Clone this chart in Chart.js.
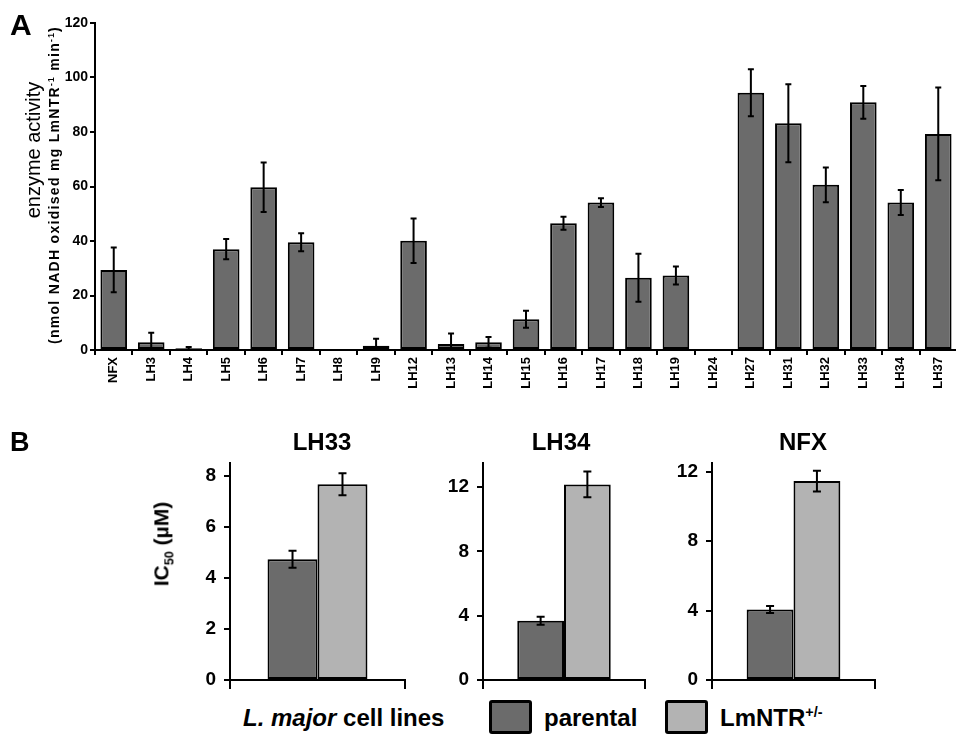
<!DOCTYPE html>
<html>
<head>
<meta charset="utf-8">
<script src="https://cdn.jsdelivr.net/npm/chart.js@4.4.1/dist/chart.umd.min.js"></script>
<style>
  body { margin: 0; width: 956px; height: 734px; overflow: hidden; background: #fff; position: relative;
         font-family: "Liberation Sans", Arial, sans-serif; color: #000; }
  canvas { position: absolute; }
  .txt { position: absolute; white-space: nowrap; font-weight: bold; }
  .rot { transform: translate(-50%, -50%) rotate(-90deg); }
  .ttl { transform: translateX(-50%); font-size: 24px; }
  .sw { position: absolute; width: 37px; height: 28px; border: 3px solid #000; border-radius: 3px; }
  sup, sub { font-size: 60%; }
</style>
</head>
<body>
<canvas id="chartA" width="980" height="400" style="left:0;top:0"></canvas>
<canvas id="chartB1" width="280" height="260" style="left:140px;top:440px"></canvas>
<canvas id="chartB2" width="240" height="260" style="left:420px;top:440px"></canvas>
<canvas id="chartB3" width="230" height="260" style="left:660px;top:440px"></canvas>

<div class="txt" style="left:10px;top:8px;font-size:30px">A</div>
<div class="txt rot" style="left:33px;top:150px;font-size:20px;font-weight:normal">enzyme activity</div>
<div class="txt rot" style="left:54px;top:185px;font-size:14px;letter-spacing:1.3px">(nmol NADH oxidised mg LmNTR<sup>-1</sup> min<sup>-1</sup>)</div>

<div class="txt" style="left:10px;top:427px;font-size:27px">B</div>
<div class="txt ttl" style="left:322px;top:428px">LH33</div>
<div class="txt ttl" style="left:561px;top:428px">LH34</div>
<div class="txt ttl" style="left:803px;top:428px">NFX</div>
<div class="txt rot" style="left:163px;top:544px;font-size:21px">IC<sub>50</sub> (µM)</div>

<div class="txt" style="left:243px;top:704px;font-size:24px"><i>L. major</i> cell lines</div>
<div class="sw" style="left:489px;top:700px;background:#6b6b6b"></div>
<div class="txt" style="left:544px;top:704px;font-size:24px">parental</div>
<div class="sw" style="left:665px;top:700px;background:#b3b3b3"></div>
<div class="txt" style="left:720px;top:704px;font-size:24px">LmNTR<sup>+/-</sup></div>

<script>
// panel A: NADH oxidation by LmNTR for each compound
const cellLines = ['NFX', 'LH3', 'LH4', 'LH5', 'LH6', 'LH7', 'LH8', 'LH9', 'LH12', 'LH13', 'LH14', 'LH15',
  'LH16', 'LH17', 'LH18', 'LH19', 'LH24', 'LH27', 'LH31', 'LH32', 'LH33', 'LH34', 'LH37'];
const activity = [29.4, 2.8, 0.6, 37.0, 59.7, 39.5, 0, 1.6, 40.1, 2.2, 2.8, 11.3,
  46.5, 54.1, 26.5, 27.3, 0, 94.4, 83.2, 60.6, 90.9, 54.1, 79.3];
const activityErr = [8.2, 3.5, 0.5, 3.7, 9.1, 3.3, 0, 2.5, 8.2, 3.9, 2.0, 3.1,
  2.4, 1.6, 8.8, 3.3, 0, 8.6, 14.3, 6.4, 6.0, 4.6, 17.0];
const activityTicks = [0, 20, 40, 60, 80, 100, 120];

// panel B: IC50 values, parental vs LmNTR+/-
const seriesNames = ['parental', 'LmNTR+/-'];
const ic50LH33 = [4.73, 7.67];
const ic50LH33Err = [0.33, 0.43];
const ticksLH33 = [0, 2, 4, 6, 8];
const ic50LH34 = [3.69, 12.17];
const ic50LH34Err = [0.25, 0.8];
const ticksLH34 = [0, 4, 8, 12];
const ic50NFX = [4.06, 11.46];
const ic50NFXErr = [0.2, 0.6];
const ticksNFX = [0, 4, 8, 12];

const DARK = '#6b6b6b';
const LIGHT = '#b3b3b3';

Chart.defaults.font.family = '"Liberation Sans", Arial, sans-serif';
Chart.defaults.font.weight = 'bold';
Chart.defaults.color = '#000';

const errorBars = {
  id: 'errorBars',
  afterDatasetsDraw(chart, args, opts) {
    const ctx = chart.ctx;
    const y = chart.scales.y;
    ctx.save();
    ctx.strokeStyle = '#000';
    ctx.lineWidth = 2;
    chart.data.datasets.forEach((ds, i) => {
      if (!ds.errors) return;
      chart.getDatasetMeta(i).data.forEach((bar, j) => {
        const e = ds.errors[j];
        if (!e) return;
        const v = ds.data[j];
        const top = y.getPixelForValue(v + e);
        const bot = y.getPixelForValue(Math.max(0, v - e));
        const w = opts.cap;
        ctx.beginPath();
        ctx.moveTo(bar.x, top); ctx.lineTo(bar.x, bot);
        ctx.moveTo(bar.x - w, top); ctx.lineTo(bar.x + w, top);
        if (v - e > 0) { ctx.moveTo(bar.x - w, bot); ctx.lineTo(bar.x + w, bot); }
        ctx.stroke();
      });
    });
    ctx.restore();
  }
};

new Chart(document.getElementById('chartA'), {
  type: 'bar',
  data: {
    labels: cellLines,
    datasets: [{
      data: activity,
      errors: activityErr,
      backgroundColor: DARK,
      borderColor: '#000',
      borderWidth: 2,
      borderSkipped: false,
      barPercentage: 0.71,
      categoryPercentage: 1
    }]
  },
  options: {
    responsive: false,
    animation: false,
    layout: { padding: { left: 0, top: 23, right: 23, bottom: 0 } },
    plugins: { legend: { display: false }, tooltip: { enabled: false }, errorBars: { cap: 3 } },
    scales: {
      x: {
        grid: { offset: true, drawOnChartArea: false, tickLength: 5, color: '#000', lineWidth: 2 },
        border: { color: '#000', width: 2 },
        ticks: { font: { size: 13 }, minRotation: 90, maxRotation: 90, autoSkip: false, padding: 2 },
        afterFit: (s) => { s.height = 50; }
      },
      y: {
        min: 0, max: 120,
        afterBuildTicks: (s) => { s.ticks = activityTicks.map(v => ({ value: v })); },
        grid: { drawOnChartArea: false, tickLength: 5, color: '#000', lineWidth: 2 },
        border: { color: '#000', width: 2 },
        ticks: { font: { size: 14 }, padding: 2 },
        afterFit: (s) => { s.width = 95; }
      }
    }
  },
  plugins: [errorBars]
});

function ic50Chart(id, values, errs, maxY, ticks, yWidth, catPct) {
  new Chart(document.getElementById(id), {
    type: 'bar',
    data: {
      labels: [''],
      datasets: [
        { label: seriesNames[0], data: [values[0]], errors: [errs[0]], backgroundColor: DARK },
        { label: seriesNames[1], data: [values[1]], errors: [errs[1]], backgroundColor: LIGHT }
      ].map(d => Object.assign(d, {
        borderColor: '#000', borderWidth: 2, borderSkipped: false,
        barPercentage: 1, categoryPercentage: catPct
      }))
    },
    options: {
      responsive: false,
      animation: false,
      layout: { padding: { left: 0, top: 23, right: 15, bottom: 0 } },
      plugins: { legend: { display: false }, tooltip: { enabled: false }, errorBars: { cap: 4 } },
      scales: {
        x: {
          grid: { offset: true, drawOnChartArea: false, tickLength: 9, color: '#000', lineWidth: 2 },
          border: { color: '#000', width: 2 },
          ticks: { display: false },
          afterFit: (s) => { s.height = 20; }
        },
        y: {
          min: 0, max: maxY,
          afterBuildTicks: (s) => { s.ticks = ticks.map(v => ({ value: v })); },
          grid: { drawOnChartArea: false, tickLength: 6, color: '#000', lineWidth: 2 },
          border: { color: '#000', width: 2 },
          ticks: { font: { size: 19 }, padding: 8 },
          afterFit: (s) => { s.width = yWidth; }
        }
      }
    },
    plugins: [errorBars]
  });
}

ic50Chart('chartB1', ic50LH33, ic50LH33Err, 8.5, ticksLH33, 90, 0.571);
ic50Chart('chartB2', ic50LH34, ic50LH34Err, 13.5, ticksLH34, 63, 0.577);
ic50Chart('chartB3', ic50NFX, ic50NFXErr, 12.5, ticksNFX, 52, 0.575);
</script>
</body>
</html>
